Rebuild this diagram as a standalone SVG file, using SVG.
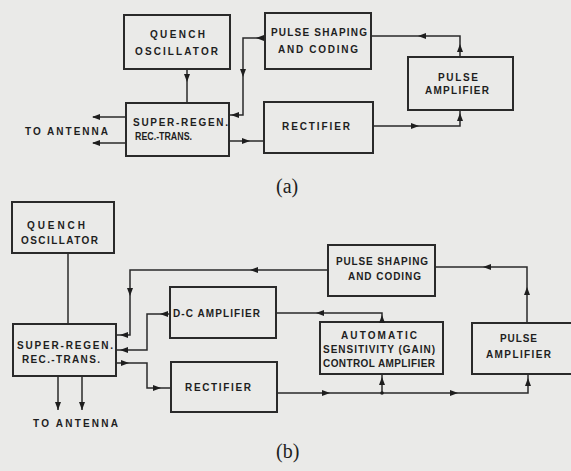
<svg xmlns="http://www.w3.org/2000/svg" xmlns:xlink="http://www.w3.org/1999/xlink" width="571" height="471" viewBox="0 0 571 471">
<style>
.box{fill:none;stroke:#2a2a2a;stroke-width:2}
.ln{fill:none;stroke:#2a2a2a;stroke-width:1.5}
.t{font-family:"Liberation Sans",Arial,sans-serif;font-size:10px;font-weight:bold;fill:#1e1e1e}
.s{font-family:"Liberation Serif","Times New Roman",serif;font-size:20px;fill:#1e1e1e}
.ah{fill:#1e1e1e}
</style>
<defs>
<path id="ah" d="M0,0 L-8,-3 L-8,3 Z"/>
</defs>
<rect width="571" height="471" fill="#eaeae8"/>

<g id="a-quench"><rect class="box" x="124" y="15" width="106" height="54"/>
<text class="t" x="150" y="37.5" textLength="55" lengthAdjust="spacing">QUENCH</text>
<text class="t" x="135" y="55" textLength="83" lengthAdjust="spacing">OSCILLATOR</text></g>
<g id="a-superregen"><rect class="box" x="126" y="103" width="103" height="53"/>
<text class="t" x="133" y="126" textLength="95" lengthAdjust="spacing">SUPER-REGEN.</text>
<text class="t" x="135" y="140" textLength="57" lengthAdjust="spacingAndGlyphs">REC.-TRANS.</text></g>
<g id="a-pulseshaping"><rect class="box" x="265" y="13" width="106" height="56"/>
<text class="t" x="271" y="36" textLength="96" lengthAdjust="spacing">PULSE SHAPING</text>
<text class="t" x="278" y="53" textLength="80" lengthAdjust="spacing">AND CODING</text></g>
<g id="a-pulseamp"><rect class="box" x="408" y="57" width="105" height="53"/>
<text class="t" x="438" y="81" textLength="40" lengthAdjust="spacing">PULSE</text>
<text class="t" x="425" y="94" textLength="64" lengthAdjust="spacing">AMPLIFIER</text></g>
<g id="a-rectifier"><rect class="box" x="264" y="102" width="109" height="51"/>
<text class="t" x="282" y="130" textLength="68" lengthAdjust="spacing">RECTIFIER</text></g>
<g id="a-antenna"><text class="t" x="25" y="135" textLength="83" lengthAdjust="spacing">TO ANTENNA</text></g>
<text class="s" x="276" y="193">(a)</text>

<g id="b-quench"><rect class="box" x="12" y="202" width="102" height="51"/>
<text class="t" x="27" y="229" textLength="58" lengthAdjust="spacing">QUENCH</text>
<text class="t" x="21" y="244" textLength="77" lengthAdjust="spacing">OSCILLATOR</text></g>
<g id="b-superregen"><rect class="box" x="13" y="324" width="103" height="52"/>
<text class="t" x="17" y="349" textLength="96" lengthAdjust="spacing">SUPER-REGEN.</text>
<text class="t" x="22" y="363" textLength="78" lengthAdjust="spacing">REC.-TRANS.</text></g>
<g id="b-dcamp"><rect class="box" x="170" y="287" width="106" height="51"/>
<text class="t" x="173" y="317" textLength="87" lengthAdjust="spacing">D-C AMPLIFIER</text></g>
<g id="b-rectifier"><rect class="box" x="171" y="362" width="106" height="50"/>
<text class="t" x="185" y="391" textLength="66" lengthAdjust="spacing">RECTIFIER</text></g>
<g id="b-pulseshaping"><rect class="box" x="328" y="245" width="107" height="51"/>
<text class="t" x="336" y="265" textLength="92" lengthAdjust="spacing">PULSE SHAPING</text>
<text class="t" x="348" y="280" textLength="73" lengthAdjust="spacing">AND CODING</text></g>
<g id="b-agc"><rect class="box" x="320" y="322" width="123" height="52"/>
<text class="t" x="341" y="339" textLength="76" lengthAdjust="spacing">AUTOMATIC</text>
<text class="t" x="323" y="353" textLength="112" lengthAdjust="spacing">SENSITIVITY (GAIN)</text>
<text class="t" x="323" y="367" textLength="112" lengthAdjust="spacing">CONTROL AMPLIFIER</text></g>
<g id="b-pulseamp"><rect class="box" x="472" y="323" width="110" height="51"/>
<text class="t" x="500" y="342" textLength="37" lengthAdjust="spacing">PULSE</text>
<text class="t" x="486" y="358" textLength="65" lengthAdjust="spacing">AMPLIFIER</text></g>
<g id="b-antenna"><text class="t" x="33" y="427" textLength="85" lengthAdjust="spacing">TO ANTENNA</text></g>
<text class="s" x="276" y="458">(b)</text>

<g id="connectors">
<path class="ln" d="M187,69 V103"/>
<path class="ln" d="M265,38 H243 V115 H229"/>
<path class="ln" d="M229,141 H264"/>
<path class="ln" d="M371,36 H460 V57"/>
<path class="ln" d="M373,126 H460 V110"/>
<path class="ln" d="M126,117 H93"/>
<path class="ln" d="M126,143 H93"/>
<path class="ln" d="M68,253 V324"/>
<path class="ln" d="M527,323 V267 H435"/>
<path class="ln" d="M328,270 H130 V335 H116"/>
<path class="ln" d="M170,314 H147 V350 H116"/>
<path class="ln" d="M116,363 H147 V388 H171"/>
<path class="ln" d="M382,322 V313 H276"/>
<path class="ln" d="M277,393 H528 V374"/>
<path class="ln" d="M382,393 V374"/>
<path class="ln" d="M58,376 V410"/>
<path class="ln" d="M82,376 V410"/>
<circle class="ah" cx="382" cy="393" r="1.8"/>
<g class="ah">
<use xlink:href="#ah" transform="translate(187,82) rotate(90)"/>
<use xlink:href="#ah" transform="translate(256,38) rotate(180)"/>
<use xlink:href="#ah" transform="translate(243,77) rotate(90)"/>
<use xlink:href="#ah" transform="translate(231,115) rotate(180)"/>
<use xlink:href="#ah" transform="translate(250,141)"/>
<use xlink:href="#ah" transform="translate(418,36) rotate(180)"/>
<use xlink:href="#ah" transform="translate(460,44) rotate(-90)"/>
<use xlink:href="#ah" transform="translate(419,126)"/>
<use xlink:href="#ah" transform="translate(460,113) rotate(-90)"/>
<use xlink:href="#ah" transform="translate(92,117) rotate(180)"/>
<use xlink:href="#ah" transform="translate(92,143) rotate(180)"/>
<use xlink:href="#ah" transform="translate(527,287) rotate(-90)"/>
<use xlink:href="#ah" transform="translate(483,267) rotate(180)"/>
<use xlink:href="#ah" transform="translate(250,270) rotate(180)"/>
<use xlink:href="#ah" transform="translate(130,296) rotate(90)"/>
<use xlink:href="#ah" transform="translate(120,335) rotate(180)"/>
<use xlink:href="#ah" transform="translate(160,314) rotate(180)"/>
<use xlink:href="#ah" transform="translate(120,350) rotate(180)"/>
<use xlink:href="#ah" transform="translate(129,363)"/>
<use xlink:href="#ah" transform="translate(161,388)"/>
<use xlink:href="#ah" transform="translate(382,315) rotate(-90)"/>
<use xlink:href="#ah" transform="translate(316,313) rotate(180)"/>
<use xlink:href="#ah" transform="translate(330,393)"/>
<use xlink:href="#ah" transform="translate(458,393)"/>
<use xlink:href="#ah" transform="translate(382,377) rotate(-90)"/>
<use xlink:href="#ah" transform="translate(528,378) rotate(-90)"/>
<use xlink:href="#ah" transform="translate(58,410) rotate(90)"/>
<use xlink:href="#ah" transform="translate(82,410) rotate(90)"/>
</g>
</g>
</svg>
